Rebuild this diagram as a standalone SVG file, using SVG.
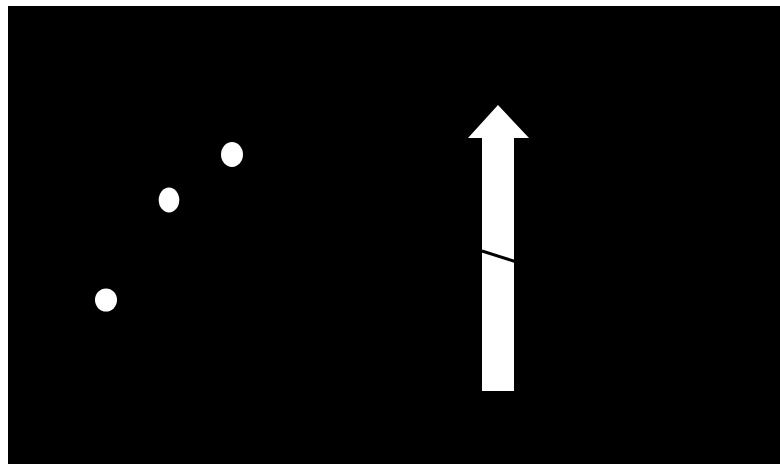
<svg xmlns="http://www.w3.org/2000/svg" width="780" height="464" viewBox="0 0 780 464">
<style>
.dot{fill:#fff}
</style>
<rect width="780" height="464" fill="#fff"/>
<rect x="8" y="6" width="772" height="458" fill="#000"/>
<g id="dot1"><ellipse class="dot" cx="106" cy="300" rx="11" ry="11.5"/></g>
<g id="dot2"><ellipse class="dot" cx="169" cy="200" rx="10.3" ry="12.5"/></g>
<g id="dot3"><ellipse class="dot" cx="232" cy="154.5" rx="11" ry="12.5"/></g>
<g id="arrow">
<polygon fill="#fff" points="498,105 529,138 514,138 514,391 482,391 482,138 468,138"/>
<line x1="482" y1="251" x2="515" y2="261.5" stroke="#000" stroke-width="3"/>
</g>
</svg>
